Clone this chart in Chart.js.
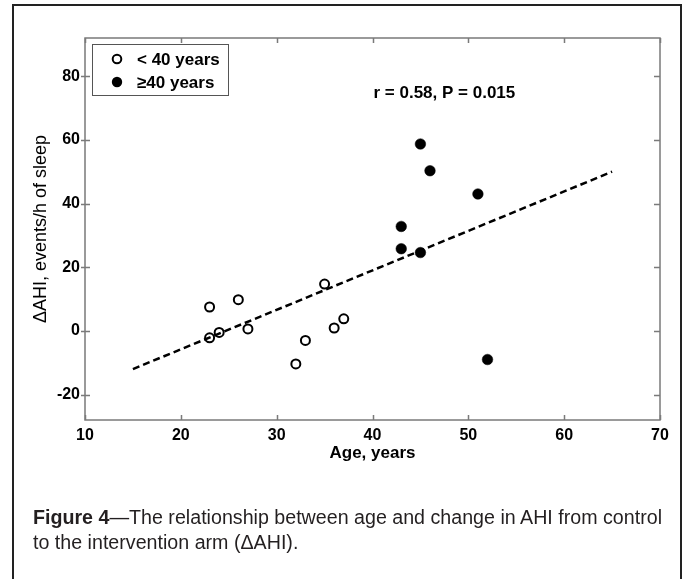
<!DOCTYPE html>
<html>
<head>
<meta charset="utf-8">
<script src="https://cdn.jsdelivr.net/npm/chart.js@4/dist/chart.umd.min.js"></script>
<style>
  html, body { margin: 0; padding: 0; background: #fff; }
  #wrap { position: relative; width: 689px; height: 579px; overflow: hidden; background: #fff; }
  #c { position: absolute; left: 0; top: 0; }
  #frame { position: absolute; left: 12px; top: 4px; width: 670px; height: 640px; border: 2px solid #222; box-sizing: border-box; }
  #cap { position: absolute; left: 33px; top: 505px; font-family: "Liberation Sans Narrow", "Liberation Sans", Arial, sans-serif; font-size: 20px; line-height: 25px; color: #231f20; white-space: nowrap; transform-origin: 0 0; }
  #cap span { display: inline-block; }
  #cap b { font-weight: bold; }
</style>
</head>
<body>
<div id="wrap">
  <canvas id="c" width="689" height="579"></canvas>
  <div id="frame"></div>
  <div id="cap"><span id="l1"><b>Figure 4</b>—The relationship between age and change in AHI from control</span><br><span id="l2">to the intervention arm (ΔAHI).</span></div>
</div>
<script>
// ---- data ----
const youngAge = [23, 26, 23, 24, 27, 35, 32, 33, 36, 37];
const youngDAHI = [7.5, 9.8, -2.2, -0.5, 0.6, 14.7, -10.4, -3.0, 0.9, 3.8];
const oldAge = [45, 46, 51, 43, 43, 45, 52];
const oldDAHI = [58.7, 50.3, 43.0, 32.8, 25.8, 24.6, -9.0];
const fitAge = [15, 65];
const fitDAHI = [-12, 50];
const xTickValues = [10, 20, 30, 40, 50, 60, 70];
const yTickValues = [-20, 0, 20, 40, 60, 80];
const seriesLabels = ['< 40 years', '\u226540 years'];
const statsText = 'r = 0.58, P = 0.015';

// fit caption width to the reference's narrow typeface
(function () {
  const cap = document.getElementById('cap');
  const w = document.getElementById('l1').getBoundingClientRect().width;
  if (w > 0) cap.style.transform = 'scaleX(' + (629 / w) + ')';
})();

const toPts = (xs, ys) => xs.map((x, i) => ({x: x, y: ys[i]}));

const FONT = '"Liberation Sans", Arial, sans-serif';

const boxPlugin = {
  id: 'boxPlugin',
  beforeDatasetsDraw(chart) {
    const {ctx, chartArea: a, scales: {x, y}} = chart;
    ctx.save();
    ctx.strokeStyle = '#7a7a7a';
    ctx.lineWidth = 1.5;
    ctx.strokeRect(a.left, a.top, a.right - a.left, a.bottom - a.top);
    ctx.beginPath();
    xTickValues.forEach(v => {
      const px = Math.round(x.getPixelForValue(v)) + 0.5;
      ctx.moveTo(px, a.bottom); ctx.lineTo(px, a.bottom - 5);
      ctx.moveTo(px, a.top); ctx.lineTo(px, a.top + 5);
    });
    yTickValues.forEach(v => {
      const py = Math.round(y.getPixelForValue(v)) + 0.5;
      ctx.moveTo(a.left - 4, py); ctx.lineTo(a.left + 5, py);
      ctx.moveTo(a.right, py); ctx.lineTo(a.right - 6, py);
    });
    ctx.stroke();
    ctx.restore();
  },
  afterDraw(chart) {
    const {ctx, scales: {x, y}} = chart;
    ctx.save();
    // stats text
    ctx.fillStyle = '#000';
    ctx.font = 'bold 17px ' + FONT;
    ctx.textAlign = 'center';
    ctx.textBaseline = 'middle';
    ctx.fillText(statsText, x.getPixelForValue(47.5), y.getPixelForValue(74.6));
    // legend
    const lx = 92, ly = 44, lw = 136, lh = 51;
    ctx.fillStyle = '#fff';
    ctx.fillRect(lx, ly, lw, lh);
    ctx.strokeStyle = '#555';
    ctx.lineWidth = 1;
    ctx.strokeRect(lx + 0.5, ly + 0.5, lw, lh);
    const rows = [59, 82];
    chart.data.datasets.slice(0, 2).forEach((ds, i) => {
      ctx.beginPath();
      if (i === 0) {
        ctx.arc(117, rows[i], 4.3, 0, Math.PI * 2);
        ctx.lineWidth = 2; ctx.strokeStyle = '#000'; ctx.stroke();
      } else {
        ctx.arc(117, rows[i], 5.2, 0, Math.PI * 2);
        ctx.fillStyle = '#000'; ctx.fill();
      }
      ctx.fillStyle = '#000';
      ctx.textAlign = 'left';
      ctx.textBaseline = 'middle';
      ctx.font = 'bold 17px ' + FONT;
      ctx.fillText(ds.label, 137, rows[i] + 1);
    });
    ctx.restore();
  }
};

new Chart(document.getElementById('c'), {
  type: 'scatter',
  data: {
    datasets: [
      {
        label: seriesLabels[0],
        data: toPts(youngAge, youngDAHI),
        pointStyle: 'circle',
        pointRadius: 4.5,
        pointBorderWidth: 2,
        borderColor: '#000',
        backgroundColor: 'rgba(0,0,0,0)'
      },
      {
        label: seriesLabels[1],
        data: toPts(oldAge, oldDAHI),
        pointStyle: 'circle',
        pointRadius: 5.3,
        pointBorderWidth: 0.5,
        borderColor: '#000',
        backgroundColor: '#000'
      },
      {
        type: 'line',
        label: 'fit',
        data: toPts(fitAge, fitDAHI),
        borderColor: '#000',
        borderWidth: 2.5,
        borderDash: [7, 4],
        pointRadius: 0,
        fill: false
      }
    ]
  },
  options: {
    responsive: false,
    animation: false,
    events: [],
    layout: { padding: { left: 0, top: 38, right: 29, bottom: 0 } },
    plugins: { legend: { display: false }, tooltip: { enabled: false } },
    scales: {
      x: {
        type: 'linear',
        min: 10, max: 70,
        afterFit(s) { s.height = 159; },
        afterBuildTicks(s) { s.ticks = xTickValues.map(v => ({value: v})); },
        grid: { display: false, drawTicks: false },
        border: { display: false },
        ticks: { color: '#000', padding: 6, font: { family: FONT, size: 16, weight: 'bold' }, maxRotation: 0 },
        title: { display: true, text: 'Age, years', color: '#000', font: { family: FONT, size: 17, weight: 'bold' }, padding: { top: 0, bottom: 115 } }
      },
      y: {
        type: 'linear',
        min: -28, max: 92,
        afterFit(s) { s.width = 85; },
        afterBuildTicks(s) { s.ticks = yTickValues.map(v => ({value: v})); },
        grid: { display: false, drawTicks: false },
        border: { display: false },
        ticks: { color: '#000', padding: 5, font: { family: FONT, size: 16, weight: 'bold' } },
        title: { display: true, text: '\u0394AHI, events/h of sleep', color: '#000', font: { family: FONT, size: 18, weight: 'normal' }, padding: { top: 30, bottom: 0 } }
      }
    }
  },
  plugins: [boxPlugin]
});
</script>
</body>
</html>
